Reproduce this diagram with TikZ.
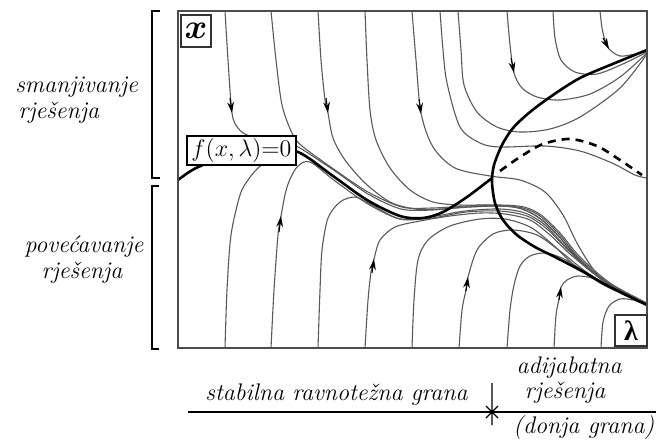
\documentclass[tikz,border=0pt]{standalone}
\usepackage{fontspec}
\usepackage{amsmath,bm}
\newfontfamily\lamfont{Liberation Serif}
\usetikzlibrary{arrows.meta}
\tikzset{
  flow/.style={line width=0.55pt,draw=black!65},
  branch/.style={line width=1.3pt,black},
  unstable/.style={line width=1.3pt,dash pattern=on 4pt off 3pt},
  flowtip/.style={-{Stealth[length=5.5pt,width=3.4pt]},line width=0.55pt,black},
  tagbox/.style={draw=black!80,fill=white,line width=0.6pt,inner sep=0pt},
  lbl/.style={font=\fontsize{12}{13}\selectfont\itshape,inner sep=0pt},
}

\begin{document}
\begin{tikzpicture}[x=0.5pt,y=-0.5pt]
  \useasboundingbox (0,0) rectangle (656,441);
  % trajectories coming from above
  \draw[flow] plot[smooth] coordinates {(225,11) (228,60) (232,113) (238,128) (250,136) (290,145) (300,148) (335,171) (368,194) (401,209) (432,210) (466,207) (500,206) (523,208) (540,216) (559,234) (579,258) (609,284) (647,304)};
  \draw[flow] plot[smooth] coordinates {(271,11) (276,60) (282,105) (292,133) (302,146) (335,170) (368,192) (402,207) (432,208) (466,206) (500,205) (524,207) (541,215) (560,233) (580,257) (610,283) (647,303)};
  \draw[flow] plot[smooth] coordinates {(318,11) (321,60) (325,100) (328,113) (333,138) (345,160) (365,183) (390,202) (415,209) (440,209) (470,207) (500,206) (522,209) (542,220) (562,240) (582,262) (612,286) (647,304)};
  \draw[flow] plot[smooth] coordinates {(365,11) (367,60) (370,110) (376,140) (390,168) (410,190) (433,202) (460,205) (490,205) (515,207) (535,215) (555,232) (575,255) (605,281) (647,304)};
  \draw[flow] plot[smooth] coordinates {(412,11) (416,60) (421,113) (433,147) (455,168) (490,176) (520,180) (545,192) (563,215) (578,245) (597,274) (620,292) (647,304)};
  \draw[flow] plot[smooth] coordinates {(440,11) (443,50) (447,83) (460,127) (480,143) (500,147) (545,146) (580,151) (612,163) (635,175) (647,178)};
  \draw[flow] plot[smooth] coordinates {(458,11) (461,50) (464,85) (477,112) (497,127) (520,132) (550,129) (580,117) (620,88) (647,54)};
  \draw[flow] plot[smooth] coordinates {(507,11) (510,45) (514,73) (522,88) (537,97) (560,100) (590,94) (620,77) (647,53)};
  \draw[flow] plot[smooth] coordinates {(553,11) (555,38) (561,60) (575,72) (597,74) (625,63) (647,52)};
  \draw[flow] plot[smooth] coordinates {(600,11) (602,28) (605,40) (609,49) (620,56) (635,54) (647,51)};
  % trajectories coming from below
  \draw[flow] plot[smooth] coordinates {(225,348) (227,290) (231,235) (240,195) (248,180) (258,168) (270,160) (285,156)};
  \draw[flow] plot[smooth] coordinates {(271,348) (274,290) (278,235) (281,216) (287,187) (297,167) (310,162) (335,181) (368,204) (400,219) (430,217) (465,211) (500,209) (525,213) (545,225) (565,246) (587,267) (614,287) (647,305)};
  \draw[flow] plot[smooth] coordinates {(318,348) (320,290) (322,250) (328,218) (340,202) (355,197) (370,204) (400,219) (432,218) (466,212) (500,211) (527,216) (547,229) (567,249) (588,269) (615,289) (647,305)};
  \draw[flow] plot[smooth] coordinates {(365,348) (368,300) (371,272) (374,259) (380,240) (395,227) (420,221) (450,216) (480,213) (505,214) (530,220) (550,235) (570,254) (592,272) (618,290) (647,305)};
  \draw[flow] plot[smooth] coordinates {(412,348) (414,300) (418,260) (428,240) (450,226) (480,219) (505,219) (530,227) (552,244) (574,265) (600,283) (625,295) (647,305)};
  \draw[flow] plot[smooth] coordinates {(459,348) (462,310) (466,290) (468,277) (477,250) (493,234) (513,230) (537,235) (560,251) (585,271) (615,290) (647,305)};
  \draw[flow] plot[smooth] coordinates {(507,348) (510,310) (514,285) (520,266) (530,256) (545,253) (562,258) (582,270) (610,287) (647,305)};
  \draw[flow] plot[smooth] coordinates {(554,348) (556,315) (559,299) (561,287) (567,280) (578,276) (595,279) (620,292) (647,305)};
  \draw[flow] plot[smooth] coordinates {(601,348) (603,322) (609,306) (620,299) (633,300) (647,305)};
  % arrow heads
  \draw[flowtip] (230,98) -- (232,113);
  \draw[flowtip] (326,98) -- (328,113);
  \draw[flowtip] (419,99) -- (421,114);
  \draw[flowtip] (511,58) -- (514,73);
  \draw[flowtip] (603,38) -- (609,49);
  \draw[flowtip] (279,232) -- (281,216);
  \draw[flowtip] (372,273) -- (374,259);
  \draw[flowtip] (466,291) -- (468,277);
  \draw[flowtip] (559,300) -- (561,287);
  % equilibrium branches
  \draw[branch] plot[smooth] coordinates {(178,180) (196,168) (230,155) (265,149) (298,152) (333,176) (367,200) (400,216) (423,218) (443,212) (467,197) (492,178)};
  \draw[branch] plot[smooth] coordinates {(647,50) (615,63) (580,78) (553,95) (530,112) (513,128) (502,145) (494,165) (492,182) (495,203) (503,220) (517,235) (535,247) (553,256) (580,270) (610,287) (647,305)};
  \draw[unstable] plot[smooth] coordinates {(500,171) (520,157) (543,144) (570,139) (597,146) (620,160) (642,175)};
  \draw[line width=0.8pt,black!70] (178,11) rectangle (647,348);
  \node[tagbox,minimum width=15pt,minimum height=16pt] (xtag) at (196,31) {\fontsize{19}{20}\selectfont$\bm{x}$};
  \node[tagbox,minimum width=16pt,minimum height=15.5pt] (lamtag) at (631,330.5) {\fontsize{14}{15}\selectfont\lamfont\bfseries λ};
  \node[tagbox,draw=black,minimum width=54.5pt,minimum height=14.5pt] (ftag) at (241.5,150.5) {\fontsize{12.5}{14}\selectfont$f(x,\lambda){=}0$};
  % brackets and lower axis
  \draw[line width=0.6pt] (160,11) -- (152,11) -- (152,178) -- (160,178);
  \draw[line width=0.6pt] (159,186) -- (152,186) -- (152,349) -- (159,349);
  \draw[line width=0.6pt] (188,412) -- (656,412);
  \draw[line width=0.6pt] (492,383) -- (492,425) (486,406) -- (498,418) (486,418) -- (498,406);
  \node[lbl,anchor=base west] (dec1) at (15,92) {smanjivanje};
  \node[lbl,anchor=base west] (dec2) at (18,118) {rješenja};
  \node[lbl,anchor=base] (inc1) at (84,252) {povećavanje};
  \node[lbl,anchor=base] (inc2) at (82,278) {rješenja};
  \node[lbl,anchor=base west] (stab) at (205,400) {stabilna ravnotežna grana};
  \node[lbl,anchor=base] (adi1) at (569,373) {adijabatna};
  \node[lbl,anchor=base] (adi2) at (565,398) {rješenja};
  \node[lbl,anchor=base west] (low) at (513,433) {(donja grana)};
\end{tikzpicture}
\end{document}
